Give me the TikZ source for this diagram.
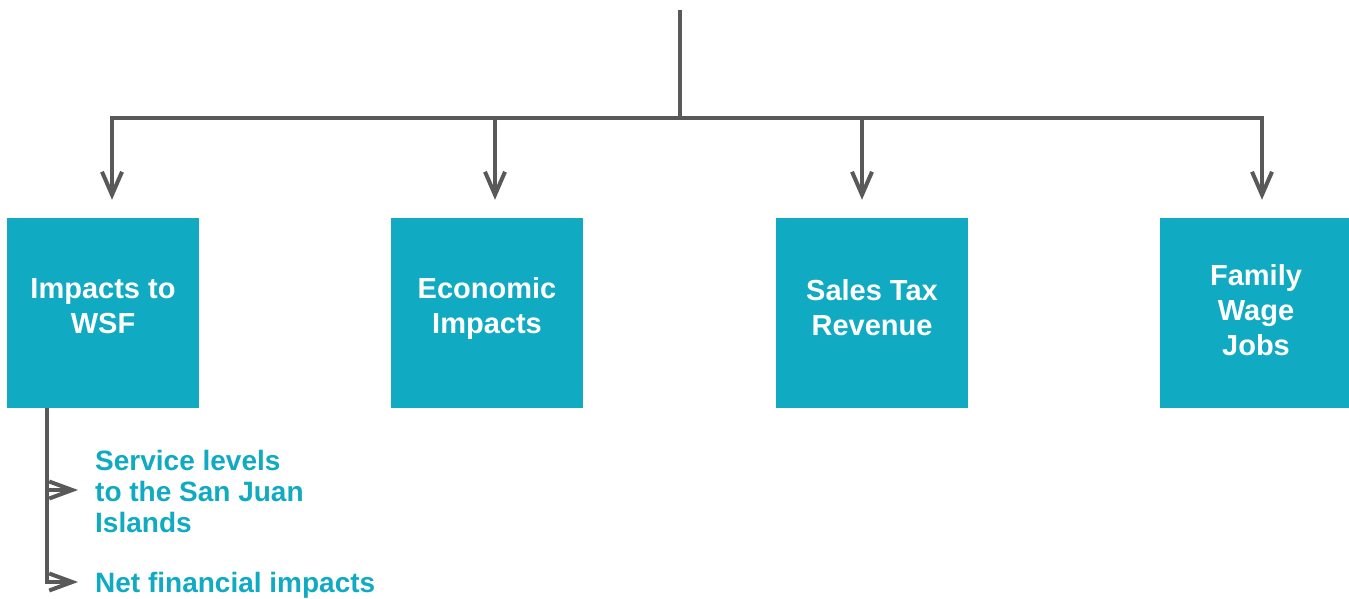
\documentclass[tikz,border=0pt]{standalone}
\usepackage{fontspec}
\setmainfont{Liberation Sans}
\usetikzlibrary{arrows.meta,calc}
\definecolor{tealbox}{HTML}{10AAC2}
\definecolor{linegray}{HTML}{595959}
\begin{document}
\begin{tikzpicture}[x=1pt,y=-1pt,
  box/.style={fill=tealbox, minimum width=192pt, minimum height=190pt, inner sep=0pt},
  boxtext/.style={text=white, inner sep=0pt, font=\bfseries\fontsize{29}{35}\selectfont, align=center},
  sub/.style={text=tealbox, inner sep=0pt, font=\bfseries\fontsize{28}{31}\selectfont, align=left},
  bus/.style={draw=linegray, line width=4pt},
  downarrow/.style={bus, -{Straight Barb[length=23pt,width=20pt,line width=4pt]}},
  sidearrow/.style={bus, -{Straight Barb[length=23pt,width=17pt,line width=4pt]}}]
\useasboundingbox (0,0) rectangle (1349,599);

\node[box] (b1) at (103,313) {};
\node[box] (b2) at (487,313) {};
\node[box] (b3) at (872,313) {};
\node[box] (b4) at (1256,313) {};
\node[boxtext] (t1) at ($(b1.center)+(0,-7)$) {Impacts to\\WSF};
\node[boxtext] (t2) at ($(b2.center)+(0,-5)$) {Economic\\Impacts};
\node[boxtext] (t3) at ($(b3.center)+(0,-5)$) {Sales Tax\\Revenue};
\node[boxtext] (t4) at ($(b4.center)+(0,-3)$) {Family\\Wage\\Jobs};

\coordinate (top) at (680,10);
\coordinate (hub) at (680,118);
\draw[bus] (top) -- (hub);
\draw[downarrow] (hub) -| ($(b1.north)+(9,-18)$);
\draw[downarrow] (hub) -| ($(b2.north)+(8,-18)$);
\draw[downarrow] (hub) -| ($(b3.north)+(-10,-18)$);
\draw[downarrow] (hub) -| ($(b4.north)+(6,-18)$);

\node[sub, anchor=base west] (svc) at (95,532) {Service levels\\to the San Juan\\Islands};
\node[sub, anchor=base west] (net) at (95,592) {Net financial impacts};

\coordinate (stem) at ($(b1.south west)+(40,0)$);
\draw[sidearrow] (stem) |- ($(net.base west)+(-17,-10)$);
\draw[sidearrow] (stem |- 0,490) -- ($(svc.west |- 0,490)+(-17,0)$);
\end{tikzpicture}
\end{document}
